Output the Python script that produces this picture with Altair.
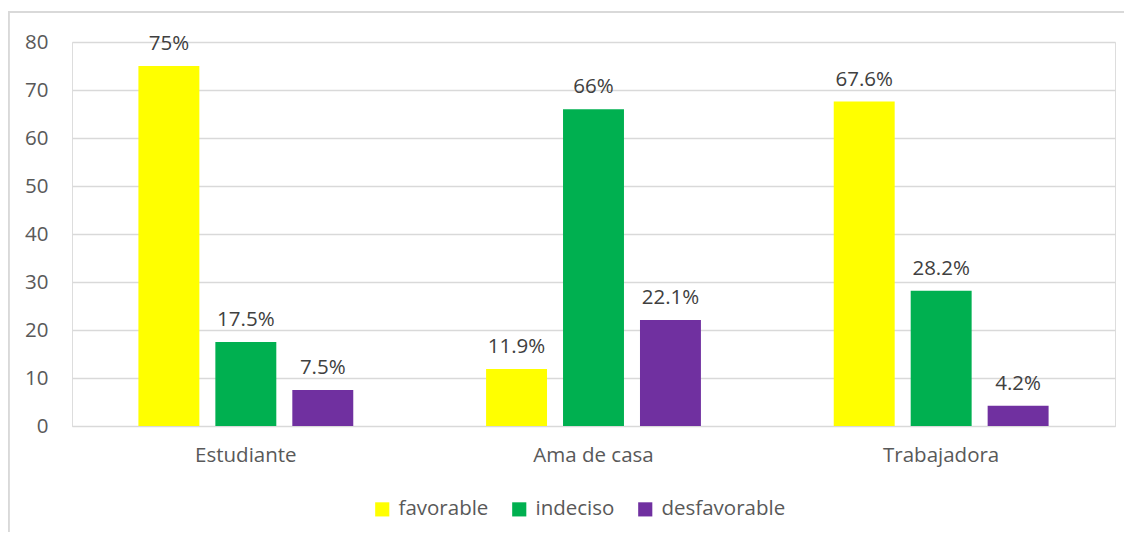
import altair as alt
import pandas as pd

categories = ["Estudiante", "Ama de casa", "Trabajadora"]
series = ["favorable", "indeciso", "desfavorable"]
favorable = [75, 11.9, 67.6]
indeciso = [17.5, 66, 28.2]
desfavorable = [7.5, 22.1, 4.2]
labels_fav = ["75%", "11.9%", "67.6%"]
labels_ind = ["17.5%", "66%", "28.2%"]
labels_des = ["7.5%", "22.1%", "4.2%"]
colors = ["#FFFF00", "#00B050", "#7030A0"]

rows = []
for s, vals, labs in zip(series, [favorable, indeciso, desfavorable],
                         [labels_fav, labels_ind, labels_des]):
    for c, v, l in zip(categories, vals, labs):
        rows.append({"cat": c, "serie": s, "valor": v, "label": l})
df = pd.DataFrame(rows)

FONT = "Open Sans"
FS = 20.5
W, H = 1043, 384

x = alt.X("cat:N", sort=categories, title=None,
          scale=alt.Scale(paddingInner=0.382, paddingOuter=0.191),
          axis=alt.Axis(labelAngle=0, ticks=False, domain=True, domainColor="#d9d9d9",
                        labelPadding=19, labelFontSize=FS, labelColor="#595959",
                        labelFont=FONT, grid=False))
xo = alt.XOffset("serie:N", sort=series,
                 scale=alt.Scale(paddingInner=0.208, paddingOuter=0))
y = alt.Y("valor:Q", title=None,
          scale=alt.Scale(domain=[0, 80], nice=False),
          axis=alt.Axis(values=list(range(0, 81, 10)), ticks=False, domain=False,
                        gridColor="#d9d9d9", gridWidth=1.3, labelPadding=24,
                        labelFontSize=FS, labelColor="#595959", labelFont=FONT))

bars = alt.Chart(df).mark_bar().encode(
    x=x, xOffset=xo, y=y,
    color=alt.Color("serie:N", sort=series,
                    scale=alt.Scale(domain=series, range=colors),
                    legend=alt.Legend(title=None, orient="none", direction="horizontal",
                                      legendX=300, legendY=457, symbolType="square",
                                      symbolSize=200, symbolStrokeWidth=0,
                                      labelFontSize=FS, labelFont=FONT,
                                      labelColor="#595959", columnPadding=20,
                                      labelOffset=6)),
)

text = alt.Chart(df).mark_text(baseline="alphabetic", dy=-16, fontSize=FS,
                               font=FONT, color="#404040").encode(
    x=alt.X("cat:N", sort=categories),
    xOffset=alt.XOffset("serie:N", sort=series),
    y="valor:Q",
    text="label:N",
)

border_top = alt.Chart(df).mark_rule(color="#d9d9d9", strokeWidth=1.5).encode(
    x=alt.value(-64), x2=alt.value(W + 9), y=alt.value(-30))
border_left = alt.Chart(df).mark_rule(color="#d9d9d9", strokeWidth=1.5).encode(
    x=alt.value(-63.5), y=alt.value(-30), y2=alt.value(H + 106))

chart = alt.layer(bars, text, border_top, border_left).properties(
    width=W, height=H,
    autosize=alt.AutoSizeParams(type="none"),
    padding={"left": 64, "top": 34, "right": 9, "bottom": 106},
).configure_view(stroke=None).configure(background="white")

chart.save("out.html", embed_options={"renderer": "svg", "actions": False})
